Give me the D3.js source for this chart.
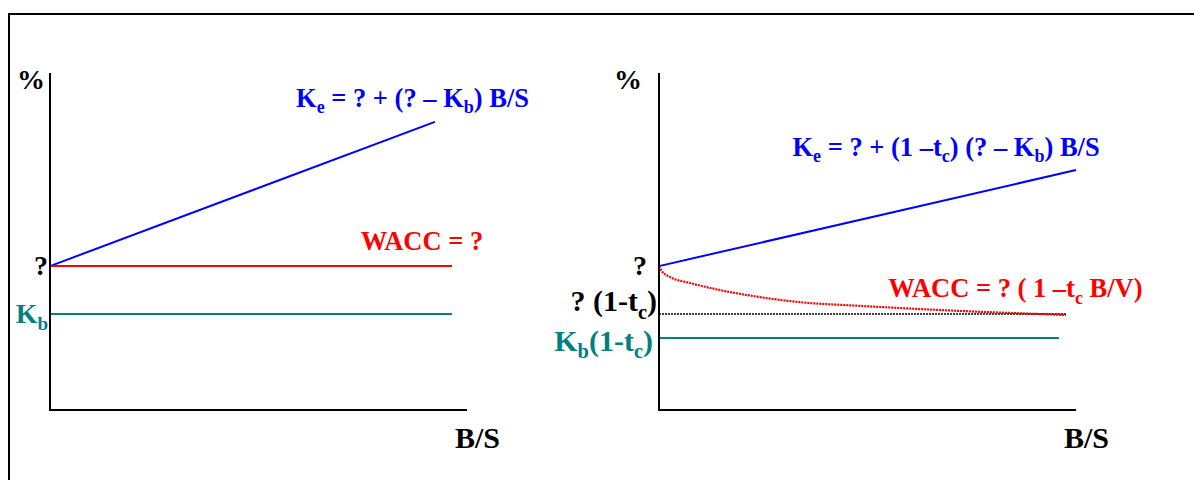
<!DOCTYPE html>
<html>
<head>
<meta charset="utf-8">
<script src="https://cdn.jsdelivr.net/npm/d3@7"></script>
<style>
  html, body { margin: 0; padding: 0; background: #fff; }
  svg { display: block; }
</style>
</head>
<body>
<svg id="chart" width="1194" height="480"></svg>
<script>
(function () {
  'use strict';

  /* ── DATA (B/S on x, % on y, both 0–100 schematic units) ── */
  // left panel: no taxes
  const leftKe     = [[0, 42.7], [92.3, 85.5]];
  const leftWacc   = [[0, 42.7], [96.4, 42.7]];
  const leftKb     = [[0, 28.5], [96.4, 28.5]];
  // right panel: with corporate taxes
  const rightKe    = [[0, 42.7], [100, 71.2]];
  const rightWacc  = [[0, 42.7], [0.7, 41.2], [2.6, 39.5], [7.4, 37.7], [14.6, 35.6],
                      [24.2, 33.5], [33.8, 32.0], [48.2, 30.9], [72.2, 29.4], [97.6, 28.2]];
  const rightFloor = [[0, 28.5], [97.6, 28.5]];
  const rightKb    = [[0, 21.4], [95.9, 21.4]];

  // label pieces: [text, isSubscript]
  const leftKeLabel    = [['K', 0], ['e', 1], [' = ? + (? – K', 0], ['b', 1], [') B/S', 0]];
  const leftWaccLabel  = [['WACC = ?', 0]];
  const rightKeLabel   = [['K', 0], ['e', 1], [' = ? + (1 –t', 0], ['c', 1], [') (? – K', 0], ['b', 1], [') B/S', 0]];
  const rightWaccLabel = [['WACC = ? ( 1 –t', 0], ['c', 1], [' B/V)', 0]];
  const leftYLabels    = [{ y: 42.7, parts: [['?', 0]], color: '#000', size: 28, gap: 2 },
                          { y: 28.5, parts: [['K', 0], ['b', 1]], color: '#008080', size: 28, gap: 2 }];
  const rightYLabels   = [{ y: 42.7, parts: [['?', 0]], color: '#000', size: 28, gap: 12 },
                          { y: 32.0, parts: [['? (1-t', 0], ['c', 1], [')', 0]], color: '#000', size: 30, gap: 2 },
                          { y: 20.3, parts: [['K', 0], ['b', 1], ['(1-t', 0], ['c', 1], [')', 0]], color: '#008080', size: 30, gap: 6 }];

  /* ── CONSTANTS ── */
  const SERIF = "'Liberation Serif', 'Times New Roman', Times, 'Nimbus Roman', 'DejaVu Serif', serif";
  const BLUE = '#0000ff', RED = '#ff0000', TEAL = '#008080';
  const TOP = 73, BOTTOM = 410, WIDTH = 417;

  const svg = d3.select('#chart');

  // outer frame (runs off the right and bottom)
  svg.append('rect')
    .attr('x', 9).attr('y', 14).attr('width', 1200).attr('height', 500)
    .attr('fill', 'none').attr('stroke', '#000').attr('stroke-width', 2);

  function addText(g, x, y, parts, opts) {
    const t = g.append('text')
      .attr('x', x).attr('y', y)
      .attr('text-anchor', opts.anchor || 'start')
      .attr('font-family', SERIF).attr('font-weight', 'bold')
      .attr('font-size', opts.size)
      .attr('fill', opts.color);
    parts.forEach(([s, sub], i) => {
      const ts = t.append('tspan').text(s);
      if (sub) ts.attr('dy', opts.size * 0.25).attr('font-size', opts.size * 0.68);
      else if (i > 0 && parts[i - 1][1]) ts.attr('dy', -opts.size * 0.25);
    });
    return t;
  }

  function panel(left, cfg) {
    const g = svg.append('g');
    const x = d3.scaleLinear().domain([0, 100]).range([left, left + WIDTH]);
    const y = d3.scaleLinear().domain([0, 100]).range([BOTTOM, TOP]);
    const line = d3.line().x(d => x(d[0])).y(d => y(d[1]));
    const curve = d3.line().x(d => x(d[0])).y(d => y(d[1])).curve(d3.curveMonotoneX);

    cfg.series.forEach(s => {
      g.append('path').datum(s.data)
        .attr('fill', 'none').attr('stroke', s.color)
        .attr('stroke-width', s.width || 2)
        .attr('stroke-dasharray', s.dash || null)
        .attr('d', s.smooth ? curve(s.data) : line(s.data));
    });

    // axes: plain L shape
    g.append('path')
      .attr('d', `M${x(0)},${y(100)}V${y(0)}H${x(100)}`)
      .attr('fill', 'none').attr('stroke', '#000').attr('stroke-width', 2);

    addText(g, x(0) - cfg.pctOff, 89, [['%', 0]], { size: 28, color: '#000' });
    addText(g, x(100) + 33, 448, [['B/S', 0]], { size: 30, color: '#000', anchor: 'end' });

    cfg.yLabels.forEach(l => {
      addText(g, x(0) - l.gap, y(l.y) + 9, l.parts, { size: l.size, color: l.color, anchor: 'end' });
    });

    cfg.labels.forEach(l => {
      addText(g, x(l.x), y(l.y), l.parts, { size: 26.5, color: l.color });
    });
    return g;
  }

  panel(50, {
    pctOff: 33,
    series: [
      { data: leftKe,   color: BLUE },
      { data: leftWacc, color: RED },
      { data: leftKb,   color: TEAL },
    ],
    yLabels: leftYLabels,
    labels: [
      { x: 59, y: 90,  parts: leftKeLabel,   color: BLUE },
      { x: 74.5, y: 47.5, parts: leftWaccLabel, color: RED },
    ],
  });

  panel(659, {
    pctOff: 45,
    series: [
      { data: rightKe,    color: BLUE },
      { data: rightFloor, color: '#000', width: 1.5, dash: '2 1' },
      { data: rightWacc,  color: RED, smooth: true, width: 2.2, dash: '2 1' },
      { data: rightKb,    color: TEAL },
    ],
    yLabels: rightYLabels,
    labels: [
      { x: 32, y: 75.5, parts: rightKeLabel,   color: BLUE },
      { x: 55, y: 33.5, parts: rightWaccLabel, color: RED },
    ],
  });
})();
</script>
</body>
</html>
